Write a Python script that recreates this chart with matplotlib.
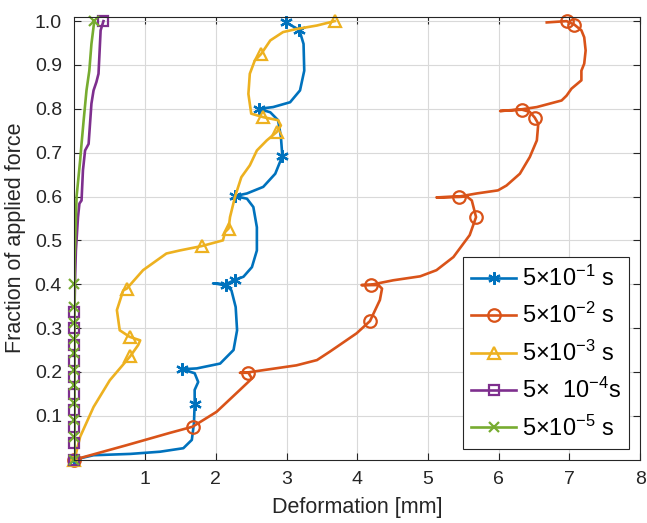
import matplotlib
matplotlib.use("Agg")
import matplotlib.pyplot as plt
from matplotlib.lines import Line2D

plt.rcParams["font.family"] = ["Liberation Sans", "DejaVu Sans"]
plt.rcParams["mathtext.fontset"] = "custom"
plt.rcParams["mathtext.rm"] = "Liberation Sans"
plt.rcParams["mathtext.it"] = "Liberation Sans:italic"

# 5x10^-1 s
blue_x = [0, 0.27, 0.79, 1.21, 1.54, 1.66, 1.69, 1.70, 1.70, 1.75, 1.70, 1.52, 1.73, 2.06, 2.25,
          2.30, 2.28, 2.22, 2.14, 1.96, 2.14, 2.27, 2.39, 2.51, 2.58, 2.58, 2.53, 2.44, 2.27, 2.44,
          2.67, 2.84, 2.94, 2.92, 2.88, 2.77, 2.61, 2.81, 3.05, 3.19, 3.25, 3.24, 3.18, 2.99]
blue_y = [0, 0.010, 0.013, 0.018, 0.026, 0.045, 0.083, 0.127, 0.159, 0.177, 0.197, 0.206, 0.208,
          0.219, 0.250, 0.295, 0.348, 0.386, 0.398, 0.402, 0.400, 0.410, 0.417, 0.439, 0.477, 0.530,
          0.576, 0.595, 0.601, 0.607, 0.622, 0.652, 0.692, 0.736, 0.774, 0.792, 0.800, 0.804, 0.815,
          0.842, 0.887, 0.948, 0.980, 0.997]
blue_mx = [0, 1.70, 1.52, 2.14, 2.27, 2.27, 2.94, 2.61, 3.18, 2.99]
blue_my = [0, 0.127, 0.206, 0.398, 0.410, 0.601, 0.692, 0.800, 0.980, 0.997]

# 5x10^-2 s
orange_x = [0, 0.74, 1.35, 1.67, 2.01, 2.34, 2.51, 2.46, 2.34, 2.46, 2.67, 3.14, 3.43, 3.61, 3.71,
            3.99, 4.18, 4.32, 4.35, 4.30, 4.20, 4.06, 4.20, 4.51, 4.89, 5.12, 5.36, 5.59, 5.68,
            5.62, 5.55, 5.44, 5.12, 5.44, 5.69, 5.99, 6.11, 6.30, 6.44, 6.54, 6.56, 6.51, 6.44,
            6.33, 6.02, 6.33, 6.54, 6.89, 6.96, 7.03, 7.17, 7.17, 7.21, 7.23, 7.21, 7.17, 7.07,
            6.96, 6.68]
orange_y = [0, 0.033, 0.061, 0.075, 0.109, 0.159, 0.185, 0.198, 0.198, 0.199, 0.204, 0.215, 0.227,
            0.246, 0.257, 0.288, 0.316, 0.364, 0.390, 0.398, 0.398, 0.398, 0.399, 0.409, 0.418,
            0.432, 0.462, 0.512, 0.553, 0.591, 0.600, 0.599, 0.598, 0.600, 0.607, 0.614, 0.625,
            0.652, 0.690, 0.728, 0.766, 0.780, 0.793, 0.798, 0.795, 0.799, 0.804, 0.819, 0.830,
            0.846, 0.865, 0.887, 0.903, 0.933, 0.963, 0.979, 0.992, 1.000, 0.997]
orange_mx = [0, 1.67, 2.46, 4.18, 4.20, 5.68, 5.44, 6.51, 6.33, 7.07, 6.96]
orange_my = [0, 0.075, 0.198, 0.316, 0.398, 0.553, 0.599, 0.780, 0.798, 0.992, 1.000]

# 5x10^-3 s
yellow_x = [0, 0.08, 0.27, 0.50, 0.79, 0.90, 0.93, 0.78, 0.64, 0.60, 0.69, 0.74, 0.97, 1.30, 1.49,
            1.80, 2.10, 2.13, 2.18, 2.20, 2.27, 2.36, 2.48, 2.58, 2.72, 2.86, 2.92, 2.88, 2.67,
            2.50, 2.46, 2.48, 2.55, 2.64, 2.77, 2.95, 3.14, 3.43, 3.68]
yellow_y = [0, 0.052, 0.120, 0.181, 0.236, 0.261, 0.272, 0.280, 0.295, 0.341, 0.386, 0.390, 0.432,
            0.470, 0.477, 0.487, 0.500, 0.519, 0.527, 0.553, 0.599, 0.644, 0.671, 0.705, 0.728,
            0.747, 0.762, 0.774, 0.781, 0.789, 0.834, 0.880, 0.910, 0.925, 0.956, 0.975, 0.982,
            0.990, 1.000]
yellow_mx = [0, 0.79, 0.78, 0.74, 1.80, 2.18, 2.86, 2.67, 2.64, 3.68]
yellow_my = [0, 0.236, 0.280, 0.390, 0.487, 0.527, 0.747, 0.781, 0.925, 1.000]

# 5x10^-4 s
purple_x = [0, 0, 0.01, 0.02, 0.05, 0.07, 0.10, 0.12, 0.15, 0.20, 0.24, 0.27, 0.31, 0.34, 0.37, 0.41]
purple_y = [0, 0.34, 0.42, 0.477, 0.553, 0.584, 0.591, 0.660, 0.705, 0.720, 0.812, 0.842, 0.861,
            0.880, 0.979, 1.000]
purple_mx = [0, 0, 0, 0, 0, 0, 0, 0, 0, 0, 0.41]
purple_my = [0, 0.0375, 0.075, 0.1125, 0.15, 0.1875, 0.225, 0.2625, 0.30, 0.3375, 1.000]

# 5x10^-5 s
green_x = [0, 0, 0.03, 0.08, 0.10, 0.13, 0.17, 0.21, 0.24, 0.28]
green_y = [0, 0.45, 0.60, 0.682, 0.720, 0.774, 0.842, 0.887, 0.948, 1.000]
green_mx = [0, 0, 0, 0, 0, 0, 0, 0, 0, 0, 0, 0.28]
green_my = [0, 0.052, 0.090, 0.128, 0.170, 0.204, 0.242, 0.276, 0.311, 0.348, 0.401, 1.000]

labels = [r"$5{\times}10^{-1}$ s", r"$5{\times}10^{-2}$ s", r"$5{\times}10^{-3}$ s",
          r"$5{\times}\ \ 10^{-4}$s", r"$5{\times}10^{-5}$ s"]

series = [
    (blue_x, blue_y, blue_mx, blue_my, "#0072BD", (6, 2, 0), 9),
    (orange_x, orange_y, orange_mx, orange_my, "#D95319", "o", 9),
    (yellow_x, yellow_y, yellow_mx, yellow_my, "#EDB120", "^", 9),
    (purple_x, purple_y, purple_mx, purple_my, "#7E2F8E", "s", 6.5),
    (green_x, green_y, green_mx, green_my, "#77AC30", "x", 6.5),
]

fig = plt.figure(figsize=(6.47, 5.23), dpi=100)
ax = fig.add_axes([0.1151, 0.1212, 0.8742, 0.8468])

handles = []
for (x, y, mx, my, c, m, ms), lab in zip(series, labels):
    ax.plot(x, y, color=c, lw=1.9, solid_joinstyle="round")
    ax.plot(mx, my, ls="none", marker=m, ms=ms, mfc="none", mec=c, mew=1.6, clip_on=False)
    handles.append(Line2D([], [], color=c, lw=1.9, marker=m, ms=ms, mfc="none", mec=c, mew=1.6))

ax.set_xlim(0, 8)
ax.set_ylim(0, 1.01)
ax.set_xticks(range(1, 9))
ax.set_yticks([0.1 * i for i in range(1, 11)])
ax.set_yticklabels([f"{0.1 * i:.1f}" for i in range(1, 11)])
ax.grid(True, color="#d9d9d9", lw=0.8)
ax.set_axisbelow(True)
ax.tick_params(direction="in", length=5, width=0.8, colors="#262626", labelsize=14,
               top=True, right=True, labelcolor="#262626")
ax.tick_params(axis="x", pad=8)
ax.tick_params(axis="y", pad=9)
for s in ax.spines.values():
    s.set_color("#262626")
    s.set_linewidth(0.8)

ax.set_xlabel("Deformation [mm]", fontsize=15.5, color="#262626", labelpad=7)
ax.set_ylabel("Fraction of applied force", fontsize=15.5, color="#262626", labelpad=6)

leg = ax.legend(handles, labels, loc="lower right", fontsize=17, fancybox=False,
                framealpha=1, edgecolor="#262626", handlelength=1.9, handletextpad=0.25,
                borderpad=0.35, labelspacing=0.52, borderaxespad=0.45)
leg.get_frame().set_linewidth(0.8)

fig.savefig("out.png", dpi=100)
